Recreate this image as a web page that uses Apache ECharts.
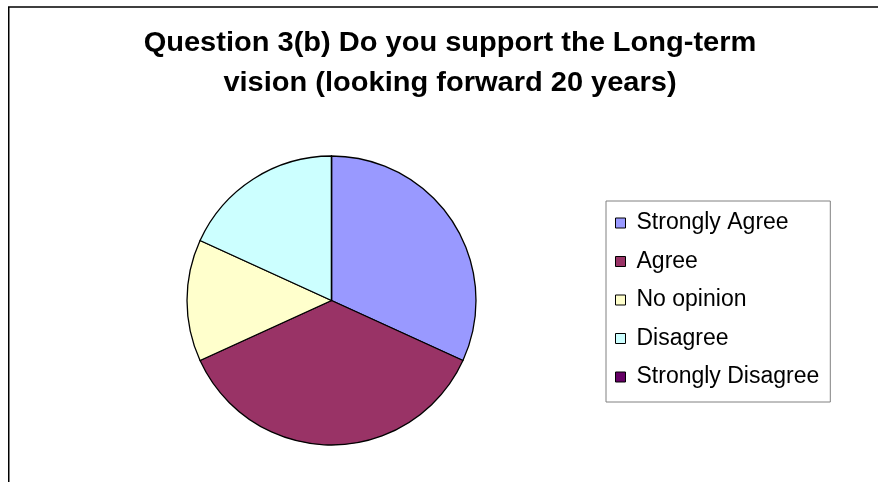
<!DOCTYPE html>
<html>
<head>
<meta charset="utf-8">
<script src="https://cdn.jsdelivr.net/npm/echarts@6/dist/echarts.min.js"></script>
<style>
  html, body { margin: 0; padding: 0; background: #ffffff; }
  #chart { width: 878px; height: 482px; }
</style>
</head>
<body>
<div id="chart"></div>
<script>
// Survey responses (number of respondents) for question 3(b)
const categories = ['Strongly Agree', 'Agree', 'No opinion', 'Disagree', 'Strongly Disagree'];
const responses = [7, 8, 3, 4, 0];
const sliceColors = ['#9999FF', '#993366', '#FFFFCC', '#CCFFFF', '#660066'];
const titleLines = ['Question 3(b) Do you support the Long-term', 'vision (looking forward 20 years)'];

const FONT = '"Liberation Sans", Arial, Helvetica, sans-serif';

const chart = echarts.init(document.getElementById('chart'), null, { renderer: 'canvas' });

// title lines, centred over the (wider) chart area
const titleGraphics = titleLines.map((line, i) => ({
  type: 'text',
  x: 450,
  y: 44 + i * 39.5,
  scaleX: 1.075,
  style: {
    text: line,
    font: 'bold 27px ' + FONT,
    fill: '#000000',
    align: 'center',
    verticalAlign: 'middle'
  },
  silent: true
}));

const option = {
  backgroundColor: '#ffffff',
  animation: false,
  graphic: [
    // chart-area frame (continues past the right and bottom edges)
    {
      type: 'rect',
      shape: { x: 8.75, y: 7, width: 920, height: 520 },
      style: { fill: null, stroke: '#000000', lineWidth: 1.5 },
      silent: true
    }
  ].concat(titleGraphics),
  legend: {
    orient: 'vertical',
    left: 606,
    top: 201,
    padding: [10, 11, 13, 9],
    itemGap: 14.5,
    itemWidth: 10,
    itemHeight: 10,
    icon: 'rect',
    borderColor: '#808080',
    borderWidth: 1,
    backgroundColor: '#ffffff',
    selectedMode: false,
    itemStyle: { borderColor: '#000000', borderWidth: 1 },
    textStyle: {
      fontFamily: FONT, fontSize: 23, color: '#000000',
      lineHeight: 24, padding: [0, 0, 0, 6]
    },
    data: categories
  },
  series: [{
    type: 'pie',
    center: [331.5, 300.5],
    radius: 144.5,
    startAngle: 90,
    clockwise: true,
    avoidLabelOverlap: false,
    label: { show: false },
    labelLine: { show: false },
    emphasis: { disabled: true },
    itemStyle: { borderColor: '#000000', borderWidth: 1.3 },
    data: categories.map((name, i) => ({
      name: name,
      value: responses[i],
      itemStyle: { color: sliceColors[i] }
    }))
  }]
};

chart.setOption(option);
</script>
</body>
</html>
